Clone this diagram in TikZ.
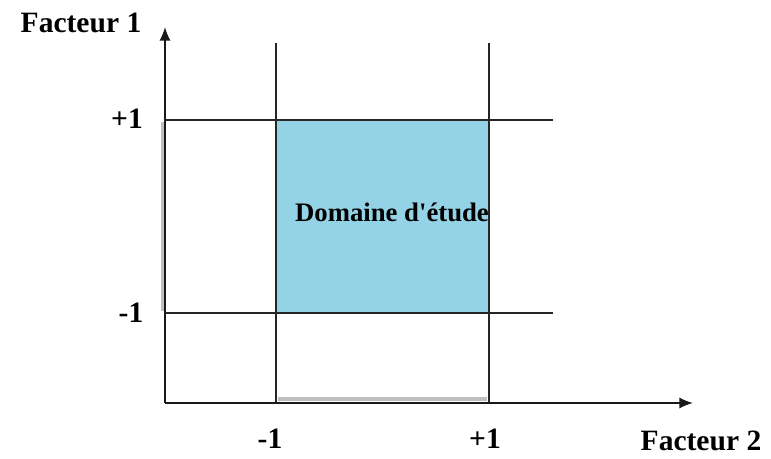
\documentclass[tikz,border=0pt]{standalone}
\usepackage{fontspec}
\setmainfont{Liberation Serif}
\usetikzlibrary{arrows.meta}
\definecolor{domblue}{RGB}{148,211,230}

\begin{document}
\begin{tikzpicture}[x=0.025cm,y=-0.025cm,
  lab/.style={font=\fontsize{21}{25}\selectfont\bfseries,inner sep=0pt},
  axe/.style={-{Latex[length=3.4mm,width=2.8mm]},line width=1.3pt,black!90},
  grille/.style={line width=1.3pt,black!85},
  ombre/.style={line width=3.5pt,black!25}]
\useasboundingbox (0,0) rectangle (771,459);
% domaine
\fill[domblue] (276,120) rectangle (489,313);
\draw[ombre] (163,122) -- (163,311);
\draw[ombre] (278,399) -- (487,399);
% repere
\coordinate (O) at (165,403);
\coordinate (ytop) at (165,27);
\coordinate (xend) at (693,403);
\coordinate (a1) at (276,43);  \coordinate (a2) at (276,403);
\coordinate (b1) at (489,43);  \coordinate (b2) at (489,403);
\coordinate (c1) at (165,120); \coordinate (c2) at (553,120);
\coordinate (d1) at (165,313); \coordinate (d2) at (553,313);
\draw[grille] (a1) -- (a2);
\draw[grille] (b1) -- (b2);
\draw[grille] (c1) -- (c2);
\draw[grille] (d1) -- (d2);
\draw[axe] (O) -- (ytop);
\draw[axe] (O) -- (xend);
% textes
\node[lab] (f1) at (81,23) {Facteur 1};
\node[lab] (f2) at (701,441) {Facteur 2};
\node[lab] (yp) at (127,119) {+1};
\node[lab] (ym) at (131,313) {-1};
\node[lab] (xm) at (270,439) {-1};
\node[lab] (xp) at (485,439) {+1};
\node[lab,font=\fontsize{19}{23}\selectfont\bfseries] (dom) at (392,212) {Domaine d\textquotesingle étude};
\end{tikzpicture}
\end{document}
